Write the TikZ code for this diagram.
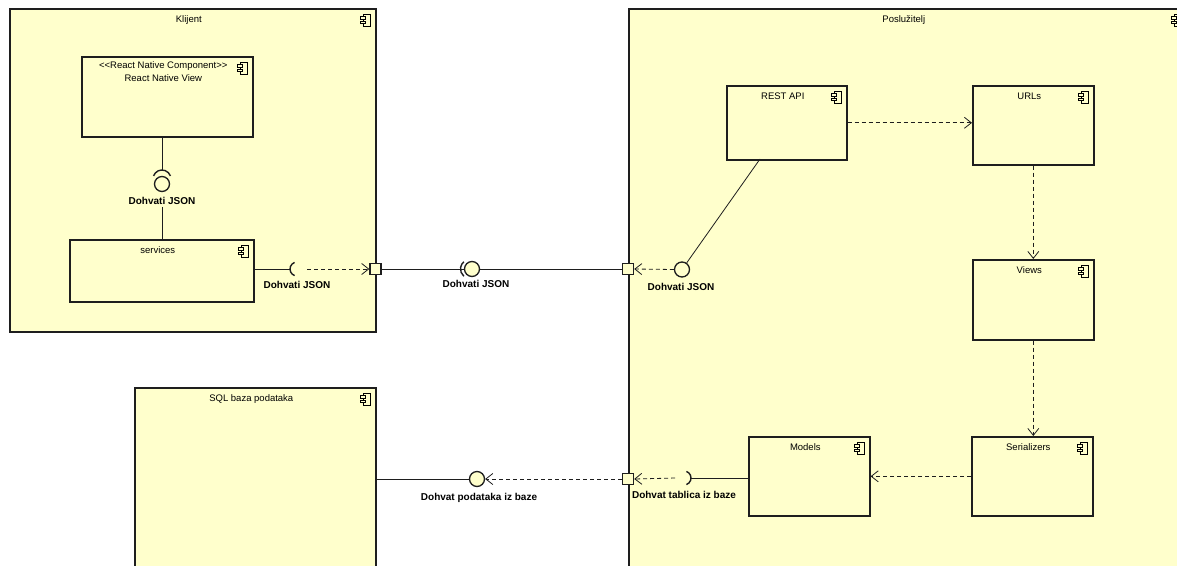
\documentclass[tikz,border=0pt]{standalone}
\usepackage{fontspec}
\setmainfont{Liberation Sans}
\usetikzlibrary{arrows.meta, positioning}
\definecolor{umlfill}{HTML}{FFFFCC}
\definecolor{umlline}{HTML}{1E1E1E}
\tikzset{
>={Straight Barb[length=7pt,width=11pt]}, % open arrow heads
comp/.style={draw=umlline, fill=umlfill, line width=1.6pt, anchor=north west, inner sep=0pt},
title/.style={label={[anchor=north, inner sep=0pt, xshift=-4pt, yshift=-7.4pt, text height=7pt, text depth=2pt]north:#1}},
port/.style={rectangle, draw=umlline, fill=umlfill, minimum size=11pt, inner sep=0pt, line width=1.4pt},
ball/.style={circle, draw=umlline, fill=umlfill, minimum size=15pt, inner sep=0pt, line width=1.3pt},
socket/.style={draw=umlline, line width=1.4pt},
iflabel/.style={font=\bfseries, inner sep=0pt},
conn/.style={draw=umlline, line width=0.8pt},
dep/.style={conn, dash pattern=on 4pt off 3pt, ->},
compicon/.pic={
  \draw[line width=0.7pt, fill=umlfill] (-3,-6) rectangle (4,6);
  \draw[line width=0.7pt, fill=umlfill] (-6,-3.5) rectangle (-1,-1);
  \draw[line width=0.7pt, fill=umlfill] (-6,1) rectangle (-1,3.5);
},
}

\begin{document}
\begin{tikzpicture}[x=1pt, y=-1pt, font=\fontsize{9.5}{13}\selectfont]
  \useasboundingbox (0,0) rectangle (1177,565);
  \clip (0,0) rectangle (1177,565);

  % outer components
  \node[comp, minimum width=366, minimum height=323, title=Klijent] (klijent) at (9,8) {};
  \node[comp, minimum width=558, minimum height=600, title=Poslužitelj] (posluzitelj) at (628,8) {};
  \node[comp, minimum width=241, minimum height=250, title=SQL baza podataka] (sql) at (134,387) {};

  % client parts
  \node[comp, minimum width=171, minimum height=80,
    label={[anchor=north, inner sep=0pt, xshift=-4pt, yshift=-5pt, align=center]north:{<\kern0pt<React Native Component>\kern0pt>\\React Native View}}] (rnv) at (81,56) {};
  \node[comp, minimum width=184, minimum height=62, title=services] (services) at (69,239) {};

  % server parts
  \node[comp, minimum width=120, minimum height=74, title=REST API] (restapi) at (726,85) {};
  \node[comp, minimum width=121, minimum height=79, title=URLs] (urls) at (972,85) {};
  \node[comp, minimum width=121, minimum height=80, title=Views] (views) at (972,259) {};
  \node[comp, minimum width=121, minimum height=79, title=Serializers] (serializers) at (971,436) {};
  \node[comp, minimum width=121, minimum height=79, title=Models] (models) at (748,436) {};

  \foreach \n in {klijent,posluzitelj,sql,rnv,services,restapi,urls,views,serializers,models}
    \path (\n.north east) ++(-10,12) pic {compicon};

  % ports
  \node[port] (port1) at (375.5,269) {};
  \node[port] (port2) at (628,269) {};
  \node[port] (port3) at (628,479) {};

  % interfaces
  \node[ball] (ball1) at (162,184) {};
  \node[ball] (ball2) at (472,269) {};
  \node[ball] (ball3) at (682,269.5) {};
  \node[ball] (ball4) at (477,479) {};
  \coordinate (sock1) at (162,170);
  \coordinate (sock2) at (290,269);
  \coordinate (sock3) at (691,478);
  \coordinate (apifoot) at (760,159);

  \node[iflabel] (lbl1) at (162,201) {Dohvati JSON};
  \node[iflabel] (lbl2) at (297,285) {Dohvati JSON};
  \node[iflabel] (lbl3) at (476,284) {Dohvati JSON};
  \node[iflabel] (lbl4) at (681,287) {Dohvati JSON};
  \node[iflabel] (lbl5) at (684,495) {Dohvat tablica iz baze};
  \node[iflabel] (lbl6) at (479,498) {Dohvat podataka iz baze};

  % sockets
  \draw[socket] (162,179) ++(200:9) arc[start angle=200, end angle=340, radius=9];
  \draw[socket] (297,269) ++(110:7) arc[start angle=110, end angle=250, radius=7];
  \draw[socket] (470,269) ++(130:9.5) arc[start angle=130, end angle=230, radius=9.5];
  \draw[socket] (684,478) ++(-70:7) arc[start angle=-70, end angle=70, radius=7];

  % connectors
  \draw[conn] (rnv.south -| sock1) -- (sock1);
  \draw[conn] (lbl1.south) ++(0,2) -- (services.north -| lbl1);
  \draw[conn] (services.east |- sock2) -- (sock2);
  \draw[dep] (307,269) -- (port1.west);
  \draw[conn] (port1.east) -- (ball2.west);
  \draw[conn] (ball2.east) -- (port2.west);
  \draw[dep] (ball3.west) -- (port2.east);
  \draw[conn] (apifoot) -- (ball3);
  \draw[dep] (restapi.east) -- (restapi.east -| urls.west);
  \draw[dep] (urls.south) -- (views.north);
  \draw[dep] (views.south) -- (views.south |- serializers.north);
  \draw[dep] (serializers.west) -- (serializers.west -| models.east);
  \draw[conn] (models.west |- sock3) -- (sock3);
  \draw[dep] (675,478) -- (port3.east);
  \draw[dep] (port3.west) -- (ball4.east);
  \draw[conn] (ball4.west) -- (ball4.west -| sql.east);
\end{tikzpicture}
\end{document}
